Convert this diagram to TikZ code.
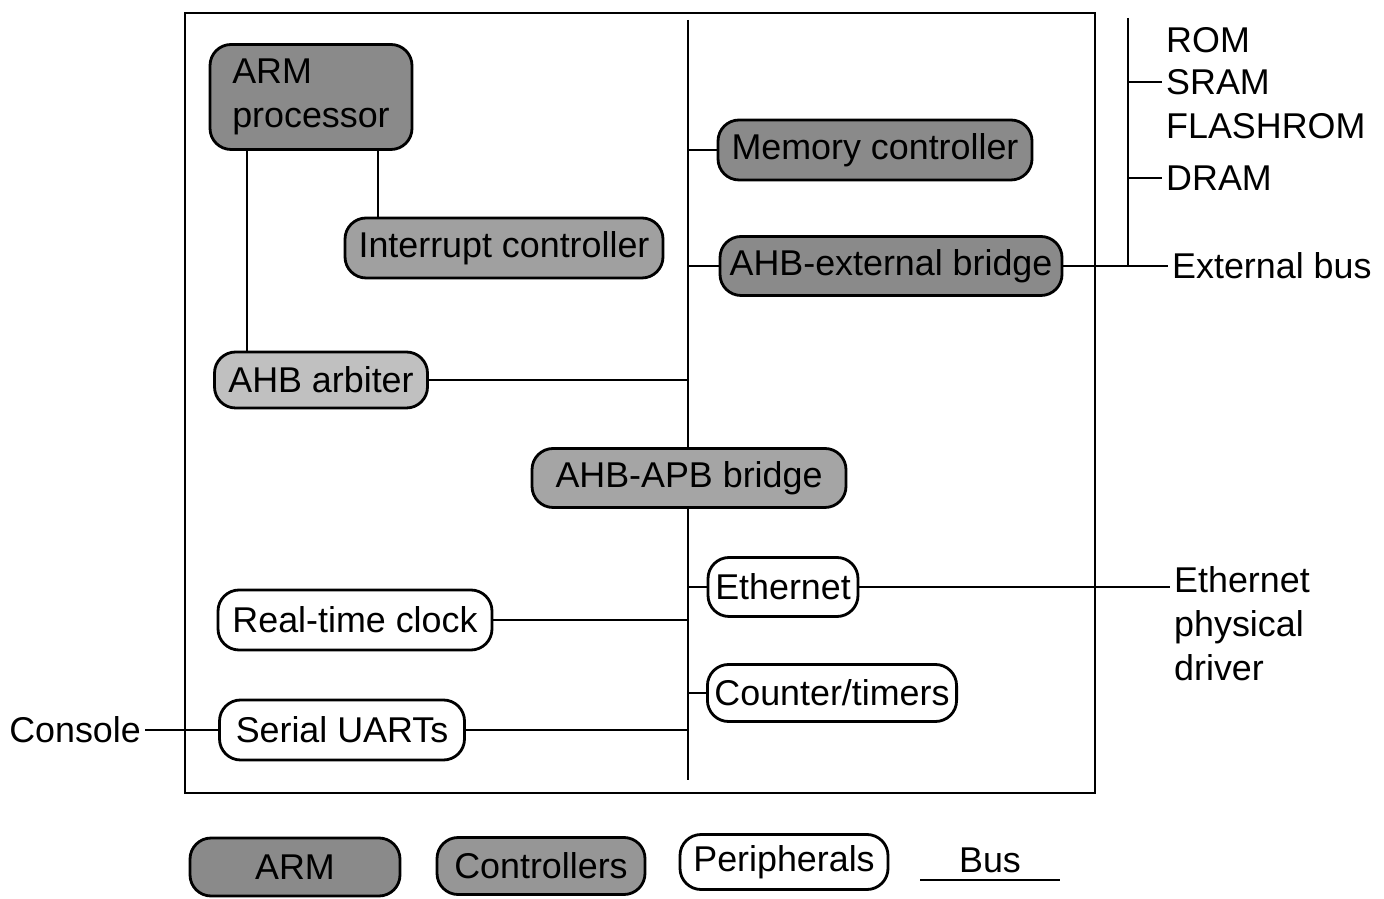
\documentclass[tikz,border=0pt]{standalone}
\usepackage{fontspec}
\setmainfont{Liberation Sans}
\definecolor{armgray}{RGB}{138, 138, 138}
\definecolor{ctlgray}{RGB}{150, 150, 150}
\definecolor{arbgray}{RGB}{192, 192, 192}
\definecolor{apbgray}{RGB}{165, 165, 165}
\usetikzlibrary{positioning, calc}

\begin{document}
\begin{tikzpicture}[
  unit/.style={draw, thick, rounded corners=6pt, inner sep=2pt, font=\fontsize{10.2}{12.5}\selectfont, align=center},
  armbox/.style={unit, fill=armgray},
  ctlbox/.style={unit, fill=ctlgray},
  periph/.style={unit, fill=white},
  lbl/.style={inner sep=1pt, font=\fontsize{10.2}{12.5}\selectfont, align=left},
  wire/.style={thick}
]
  \useasboundingbox (0,0) rectangle (13.84,-8.99);

  % chip outline and the AHB/APB bus
  \draw[wire] (1.85,-0.13) rectangle (10.95,-7.93);
  \coordinate (busTop) at (6.88,-0.20);
  \coordinate (busBot) at (6.88,-7.80);
  \draw[wire] (busTop) -- (busBot);

  % ARM side
  \node[armbox, minimum width=2.02cm, minimum height=1.05cm, align=left] (armproc) at (3.11,-0.97) {ARM\\processor};
  \node[ctlbox, fill=ctlgray!90, minimum width=3.18cm, minimum height=0.60cm] (intc) at (5.04,-2.48) {Interrupt controller};
  \node[ctlbox, fill=arbgray, minimum width=2.13cm, minimum height=0.56cm] (arbiter) at (3.21,-3.80) {AHB arbiter};

  \draw[wire] ([xshift=-0.64cm]armproc.south) -- ([xshift=-0.64cm]armproc.south |- arbiter.north);
  \draw[wire] ([xshift=0.67cm]armproc.south) -- ([xshift=0.67cm]armproc.south |- intc.north);
  \draw[wire] (arbiter.east) -- (arbiter.east -| busTop);

  % memory side
  \node[ctlbox, fill=armgray, minimum width=3.14cm, minimum height=0.60cm] (memctl) at (8.75,-1.50) {Memory controller};
  \node[ctlbox, fill=armgray, minimum width=3.42cm, minimum height=0.59cm] (extbr) at (8.91,-2.66) {AHB-external bridge};
  \draw[wire] (memctl.west -| busTop) -- (memctl.west);
  \draw[wire] (extbr.west -| busTop) -- (extbr.west);

  \coordinate (memTop) at (11.28,-0.18);
  \coordinate (memBot) at (11.28,-2.66);
  \draw[wire] (memTop) -- (memBot);
  \node[lbl, anchor=west] (rom) at (11.62,-0.40) {ROM};
  \node[lbl, anchor=west] (sram) at (11.62,-0.82) {SRAM};
  \node[lbl, anchor=west] (flash) at (11.62,-1.26) {FLASHROM};
  \node[lbl, anchor=west] (dram) at (11.62,-1.78) {DRAM};
  \node[lbl, anchor=west] (extbus) at (11.68,-2.66) {External bus};
  \draw[wire] (sram.west -| memTop) -- (sram.west);
  \draw[wire] (dram.west -| memTop) -- (dram.west);
  \draw[wire] (extbr.east) -- (extbus.west);

  % APB side
  \node[ctlbox, fill=apbgray, minimum width=3.14cm, minimum height=0.59cm] (apb) at (6.89,-4.78) {AHB-APB bridge};
  \node[periph, minimum width=1.50cm, minimum height=0.59cm] (eth) at (7.83,-5.87) {Ethernet};
  \node[periph, minimum width=2.74cm, minimum height=0.60cm] (rtc) at (3.55,-6.20) {Real-time clock};
  \node[periph, minimum width=2.49cm, minimum height=0.57cm] (timers) at (8.32,-6.93) {Counter/timers};
  \node[periph, minimum width=2.45cm, minimum height=0.60cm] (uart) at (3.42,-7.30) {Serial UARTs};

  \draw[wire] (eth.west -| busTop) -- (eth.west);
  \draw[wire] (timers.west -| busTop) -- (timers.west);
  \draw[wire] (rtc.east) -- (rtc.east -| busTop);
  \draw[wire] (uart.east) -- (uart.east -| busTop);

  \node[lbl, anchor=north west] (phy) at (11.70,-5.62) {Ethernet\\physical\\driver};
  \draw[wire] (eth.east) -- (eth.east -| phy.west);
  \node[lbl, anchor=east] (console) at (1.45,-7.30) {Console};
  \draw[wire] (console.east) -- (uart.west);

  % legend
  \node[armbox, minimum width=2.10cm, minimum height=0.58cm] (legarm) at (2.95,-8.67) {ARM};
  \node[ctlbox, minimum width=2.08cm, minimum height=0.57cm] (legctl) at (5.41,-8.66) {Controllers};
  \node[periph, minimum width=2.08cm, minimum height=0.55cm] (legper) at (7.84,-8.62) {Peripherals};
  \node[lbl] (legbus) at (9.90,-8.60) {Bus};
  \coordinate (busL) at (9.20,-8.80);
  \coordinate (busR) at (10.60,-8.80);
  \draw[wire] (busL) -- (busR);
\end{tikzpicture}
\end{document}
